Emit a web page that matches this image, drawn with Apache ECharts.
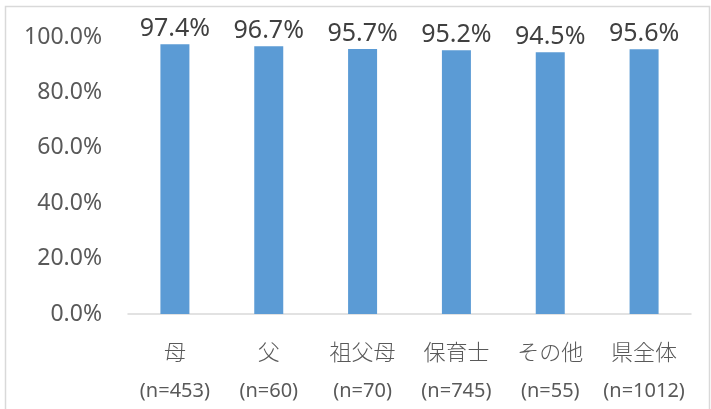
<!DOCTYPE html>
<html>
<head>
    <meta charset="utf-8" />
    <title>割合</title>
    <script src="https://cdn.jsdelivr.net/npm/echarts@6/dist/echarts.min.js"></script>
    <style>
        html, body { margin: 0; padding: 0; background: #fff; }
        #chart { width: 711px; height: 409px; }
    </style>
</head>
<body>
    <div id="chart"></div>
    <script>
        // データ
        var categories = ['母', '父', '祖父母', '保育士', 'その他', '県全体'];
        var counts = ['n=453', 'n=60', 'n=70', 'n=745', 'n=55', 'n=1012'];
        var rates = [97.4, 96.7, 95.7, 95.2, 94.5, 95.6];
        var yTicks = [0, 20, 40, 60, 80, 100];

        var latin = '"Noto Sans", "Noto Sans CJK JP", sans-serif';
        var cjk = '"Noto Sans CJK JP", "Noto Sans", sans-serif';
        var chart = echarts.init(document.getElementById('chart'));

        chart.setOption({
            animation: false,
            textStyle: { fontFamily: latin },
            graphic: [{
                type: 'rect',
                shape: { x: 5.5, y: 6.5, width: 704, height: 420 },
                style: { fill: 'none', stroke: '#d9d9d9', lineWidth: 1.5 },
                silent: true
            }],
            grid: { left: 128, right: 20, top: 37, bottom: 95 },
            xAxis: {
                type: 'category',
                data: categories,
                axisLine: { lineStyle: { color: '#d9d9d9', width: 1.5 } },
                axisTick: { show: false },
                axisLabel: {
                    interval: 0,
                    margin: 14,
                    formatter: function (v, i) {
                        return '{a|' + v + '}\n{b|(' + counts[i] + ')}';
                    },
                    rich: {
                        a: { fontSize: 22, color: '#595959', fontFamily: cjk, fontWeight: 300, lineHeight: 48 },
                        b: { fontSize: 20, color: '#595959', fontFamily: latin, lineHeight: 30 }
                    }
                }
            },
            yAxis: {
                type: 'value',
                min: yTicks[0],
                max: yTicks[yTicks.length - 1],
                interval: 20,
                axisLine: { show: false },
                axisTick: { show: false },
                splitLine: { show: false },
                axisLabel: {
                    margin: 26,
                    fontSize: 23,
                    color: '#595959',
                    formatter: function (v) { return v.toFixed(1) + '%'; }
                }
            },
            series: [{
                type: 'bar',
                data: rates,
                barWidth: 29,
                itemStyle: { color: '#5b9bd5' },
                label: {
                    show: true,
                    position: 'top',
                    distance: 3,
                    fontSize: 25,
                    color: '#404040',
                    formatter: function (p) { return p.value.toFixed(1) + '%'; }
                }
            }]
        });
    </script>
</body>
</html>
